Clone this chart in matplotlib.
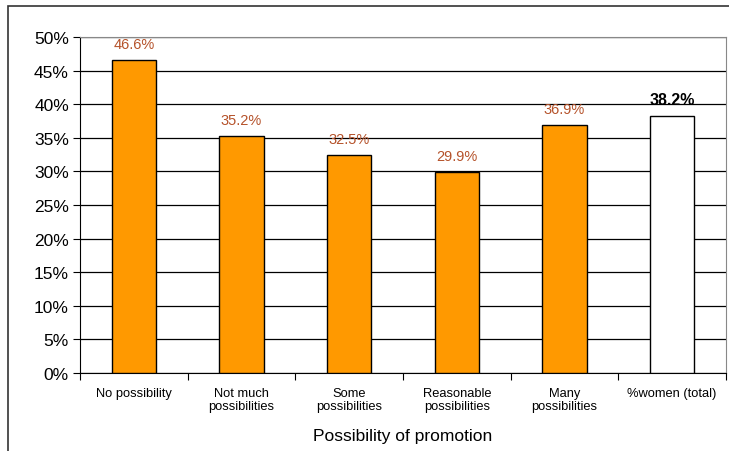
import matplotlib
matplotlib.use("Agg")
import matplotlib.pyplot as plt
from matplotlib.patches import Rectangle
from matplotlib.ticker import FuncFormatter, MultipleLocator

categories = ["No possibility", "Not much\npossibilities", "Some\npossibilities",
              "Reasonable\npossibilities", "Many\npossibilities", "%women (total)"]
values = [46.6, 35.2, 32.5, 29.9, 36.9, 38.2]
bar_colors = ["#FF9900", "#FF9900", "#FF9900", "#FF9900", "#FF9900", "#FFFFFF"]
label_colors = ["#B5522A", "#B5522A", "#B5522A", "#B5522A", "#B5522A", "#000000"]
label_weights = ["normal"] * 5 + ["bold"]
label_sizes = [10.5] * 5 + [11.5]
xlabel = "Possibility of promotion"

plt.rcParams['font.family'] = ['Liberation Sans', 'DejaVu Sans']

fig = plt.figure(figsize=(7.29, 4.52), dpi=100)
fig.patches.append(Rectangle((8/729, -0.1), 1.2, 1.1 - 7/452, transform=fig.transFigure,
                             fill=False, edgecolor="#333333", linewidth=1.2))
ax = fig.add_axes([80/729, 78/452, 646/729, 336/452])

x = list(range(len(categories)))
ax.bar(x, values, width=0.41, color=bar_colors, edgecolor="black", linewidth=1.0, zorder=3)
for xi, v, c, w, fs in zip(x, values, label_colors, label_weights, label_sizes):
    ax.annotate(f"{v:.1f}%", (xi, v), xytext=(0, 6.5), textcoords="offset points",
                ha="center", va="bottom", color=c, fontsize=fs, fontweight=w)

ax.set_xlim(-0.5, len(categories) - 0.5)
ax.set_ylim(0, 50)
ax.yaxis.set_major_locator(MultipleLocator(5))
ax.yaxis.set_major_formatter(FuncFormatter(lambda v, p: f"{v:.0f}%"))
ax.grid(axis="y", color="black", linewidth=0.9, zorder=0)
ax.set_axisbelow(True)

ax.set_xticks(x)
ax.set_xticklabels(categories, fontsize=9.3, linespacing=1.1)
ax.tick_params(axis="x", length=0, pad=10)
ax.set_xticks([i + 0.5 for i in range(-1, len(categories))], minor=True)
ax.tick_params(axis="x", which="minor", length=5, width=0.8, direction="out")
ax.tick_params(axis="y", labelsize=12.5, length=5, width=0.8, direction="out", pad=3)

for s in ["top", "right"]:
    ax.spines[s].set_color("#888888")
for s in ["left", "bottom"]:
    ax.spines[s].set_color("black")

ax.set_xlabel(xlabel, fontsize=12.5, labelpad=12)

fig.savefig("out.png", dpi=100)
